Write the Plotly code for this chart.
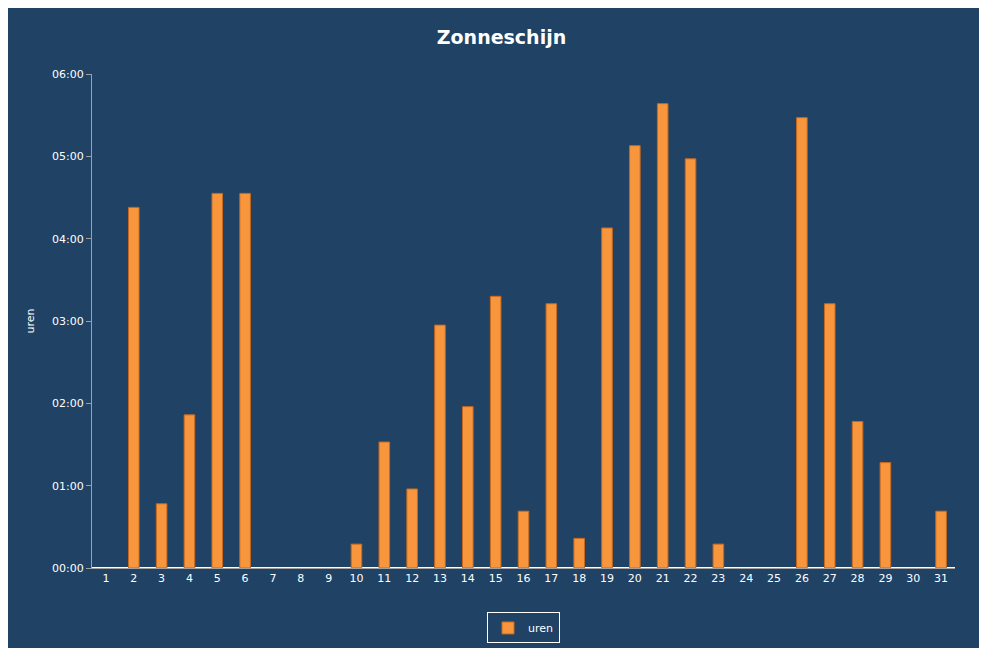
import plotly.graph_objects as go

days = [str(d) for d in range(1, 32)]
hours = [None, 4.38, 0.78, 1.86, 4.55, 4.55, None, None, None, 0.29,
         1.53, 0.96, 2.95, 1.96, 3.30, 0.69, 3.21, 0.36, 4.13, 5.13,
         5.64, 4.97, 0.29, None, None, 5.47, 3.21, 1.78, 1.28, None, 0.69]
tick_vals = [0, 1, 2, 3, 4, 5, 6]
tick_text = ["00:00", "01:00", "02:00", "03:00", "04:00", "05:00", "06:00"]

fig = go.Figure(go.Bar(
    x=days, y=hours, name="uren",
    marker=dict(color="#F7963C", line=dict(color="#C8691E", width=1)),
))
fig.update_layout(
    width=987, height=648,
    paper_bgcolor="#1F4265", plot_bgcolor="#1F4265",
    font=dict(family="DejaVu Sans", color="white", size=11),
    title=dict(text="<b>Zonneschijn</b>", x=0.5, y=0.965, font=dict(size=19, color="white")),
    margin=dict(l=84, r=40, t=66, b=80),
    bargap=0.62,
    showlegend=True,
    legend=dict(orientation="h", x=0.5, xanchor="center", y=-0.09, yanchor="top",
                bordercolor="white", borderwidth=1, font=dict(size=11)),
    xaxis=dict(showgrid=False, showline=True, linecolor="#A0A0A0", ticks="",
               tickfont=dict(size=11)),
    yaxis=dict(title=dict(text="uren", font=dict(size=11)), range=[0, 6],
               tickvals=tick_vals, ticktext=tick_text, showgrid=False,
               showline=True, linecolor="#A0A0A0", ticks="outside",
               tickcolor="#A0A0A0", tickfont=dict(size=11)),
)
fig.write_html("out.html")
